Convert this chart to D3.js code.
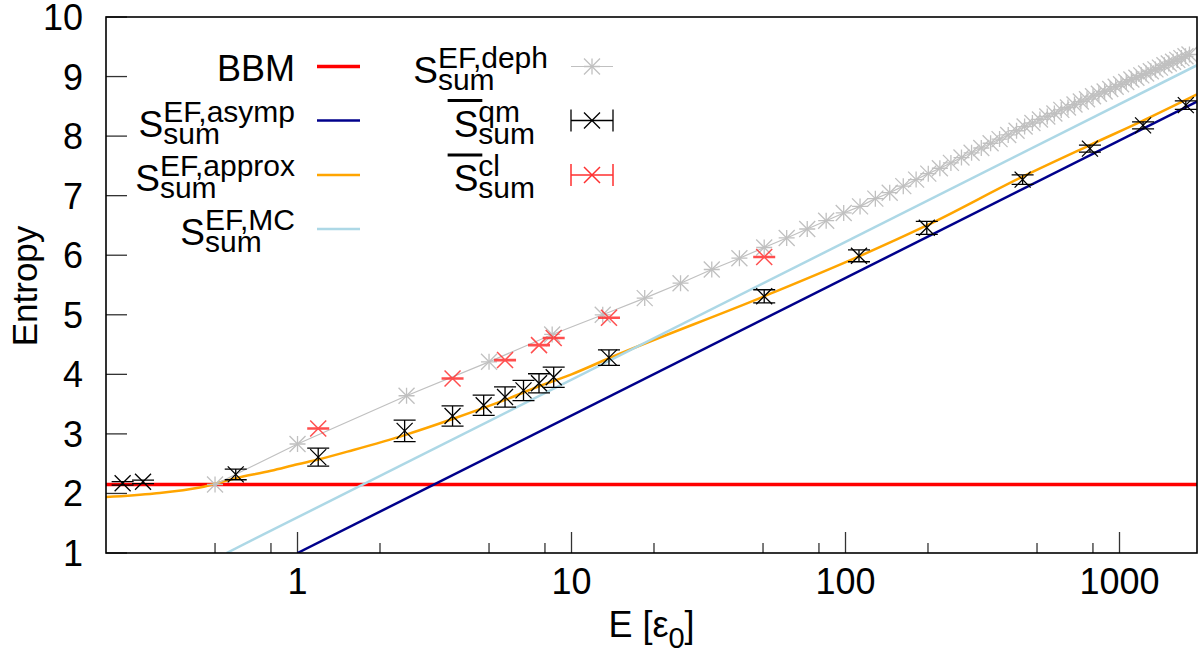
<!DOCTYPE html>
<html lang="en">
<head>
<meta charset="utf-8">
<title>Entropy vs energy</title>
<script src="https://cdn.jsdelivr.net/npm/d3@7"></script>
<style>
  body { margin: 0; background: #fff; }
  text { font-family: "Liberation Sans", Arial, Helvetica, sans-serif; fill: #000; }
</style>
</head>
<body>
<div id="chart"></div>
<script>
  // dephasing curve, one marker per level
  var dephE = [0.5, 1, 2.5, 5, 8.5, 13, 18.5, 25, 32.5, 41, 50.5, 61, 72.5, 85, 98.5, 113, 128.5, 145,
    162.5, 181, 200.5, 221, 242.5, 265, 288.5, 313, 338.5, 365, 392.5, 421, 450.5, 481, 512.5,
    545, 578.5, 613, 648.5, 685, 722.5, 761, 800.5, 841, 882.5, 925, 968.5, 1013, 1058.5, 1105,
    1152.5, 1201, 1250.5, 1301, 1352.5, 1405, 1458.5, 1513, 1568.5, 1625, 1682.5, 1741, 1800.5];
  var dephS = [2.15, 2.83, 3.64, 4.21, 4.67, 5.0, 5.28, 5.53, 5.76, 5.95, 6.13, 6.29, 6.44, 6.58, 6.71, 6.82, 6.95, 7.05,
    7.16, 7.27, 7.37, 7.46, 7.55, 7.64, 7.72, 7.80, 7.88, 7.95, 8.02, 8.09, 8.16, 8.22, 8.28,
    8.33, 8.38, 8.44, 8.48, 8.53, 8.58, 8.62, 8.67, 8.71, 8.75, 8.79, 8.83, 8.87, 8.91, 8.95,
    8.98, 9.02, 9.05, 9.09, 9.12, 9.15, 9.19, 9.22, 9.25, 9.28, 9.31, 9.34, 9.37];

  // quantum mean with error bars
  var qmE = [0.23, 0.273, 0.595, 1.19, 2.46, 3.68, 4.78, 5.72, 6.68, 7.61, 8.61, 13.7, 50.5, 112, 198, 443, 780, 1219, 1746];
  var qmS = [2.17, 2.195, 2.32, 2.61, 3.05, 3.30, 3.48, 3.62, 3.73, 3.85, 3.95, 4.28, 5.31, 5.99, 6.46, 7.27, 7.79, 8.18, 8.52];
  var qmErr = [0.03, 0.03, 0.09, 0.15, 0.18, 0.17, 0.17, 0.17, 0.17, 0.16, 0.17, 0.13, 0.11, 0.10, 0.11, 0.08, 0.06, 0.06, 0.07];

  // classical mean with error bars
  var clE = [1.19, 3.68, 5.72, 7.61, 8.61, 13.7, 50.5];
  var clS = [3.09, 3.93, 4.24, 4.49, 4.61, 4.95, 5.97];
  var clErr = [0.01, 0.01, 0.01, 0.01, 0.01, 0.01, 0.01];

  // curves
  var approxE = [0.2, 0.3, 0.44, 0.6, 0.8, 1.0, 1.19, 1.6, 2.46, 3.68, 5.72, 7.61, 10, 13.7, 50.5, 112, 198, 443, 780, 1219, 1918];
  var approxS = [1.94, 2.0, 2.1, 2.26, 2.38, 2.49, 2.57, 2.73, 2.98, 3.25, 3.57, 3.80, 4.0, 4.27, 5.31, 5.98, 6.50, 7.32, 7.85, 8.26, 8.70];
  var asympE = [1, 1918];
  var asympS = [1, 8.58];
  var mcE = [0.551, 1918];
  var mcS = [1, 9.19];
  var bbmE = [0.2, 1918];
  var bbmS = [2.15, 2.15];

  var xTicks = [1, 10, 100, 1000];
  var xMinor = [0.5, 0.8, 2, 5, 8, 20, 50, 80, 200, 500, 800];
  var yTicks = [1, 2, 3, 4, 5, 6, 7, 8, 9, 10];

  var W = 1204, H = 650;
  var pL = 106, pR = 1197, pT = 17, pB = 553;

  var svg = d3.select("#chart").append("svg")
    .attr("width", W).attr("height", H);

  var x = d3.scaleLog().domain([0.2, 1918]).range([pL, pR]);
  var y = d3.scaleLinear().domain([1, 10]).range([pB, pT]);

  var zip = function (a, b) { return a.map(function (v, i) { return [v, b[i]]; }); };

  svg.append("clipPath").attr("id", "plot")
    .append("rect").attr("x", pL).attr("y", pT).attr("width", pR - pL).attr("height", pB - pT);

  // ticks (inside, left and bottom only)
  var tickG = svg.append("g").attr("stroke", "#333").attr("stroke-width", 1.3);
  yTicks.forEach(function (t) {
    tickG.append("line").attr("x1", pL).attr("x2", pL + 21).attr("y1", y(t)).attr("y2", y(t));
  });
  xTicks.forEach(function (t) {
    tickG.append("line").attr("x1", x(t)).attr("x2", x(t)).attr("y1", pB).attr("y2", pB - 21);
  });
  xMinor.forEach(function (t) {
    tickG.append("line").attr("x1", x(t)).attr("x2", x(t)).attr("y1", pB).attr("y2", pB - 10);
  });

  svg.selectAll(".ylab").data(yTicks).enter().append("text")
    .attr("x", 83).attr("y", function (d) { return y(d); }).attr("dy", "0.36em")
    .attr("text-anchor", "end").attr("font-size", 36).text(function (d) { return d; });
  svg.selectAll(".xlab").data(xTicks).enter().append("text")
    .attr("x", function (d) { return x(d); }).attr("y", 594)
    .attr("text-anchor", "middle").attr("font-size", 36).text(function (d) { return d; });

  var xt = svg.append("text").attr("x", (pL + pR) / 2).attr("y", 637)
    .attr("text-anchor", "middle").attr("font-size", 36);
  xt.append("tspan").text("E [ε");
  xt.append("tspan").attr("font-size", 29).attr("dy", 11).text("0");
  xt.append("tspan").attr("dy", -11).text("]");

  svg.append("text").attr("transform", "translate(37,286) rotate(-90)")
    .attr("text-anchor", "middle").attr("font-size", 35).text("Entropy");

  var plot = svg.append("g").attr("clip-path", "url(#plot)");
  var line = d3.line().x(function (d) { return x(d[0]); }).y(function (d) { return y(d[1]); });

  var red = "#ff0000", navy = "#00008b", orange = "#ffa500", lblue = "#add8e6", gray = "#c0c0c0", clRed = "#ff3030";

  plot.append("path").datum(zip(bbmE, bbmS)).attr("d", line)
    .attr("fill", "none").attr("stroke", red).attr("stroke-width", 3.5);
  plot.append("path").datum(zip(asympE, asympS)).attr("d", line)
    .attr("fill", "none").attr("stroke", navy).attr("stroke-width", 2.5);
  plot.append("path").datum(zip(approxE, approxS)).attr("d", line.curve(d3.curveMonotoneX))
    .attr("fill", "none").attr("stroke", orange).attr("stroke-width", 2.5);
  line.curve(d3.curveLinear);
  plot.append("path").datum(zip(mcE, mcS)).attr("d", line)
    .attr("fill", "none").attr("stroke", lblue).attr("stroke-width", 2.5);

  function cross(g, cx, cy, s) {
    g.append("path").attr("d", "M" + (cx - s) + "," + (cy - s) + "L" + (cx + s) + "," + (cy + s) +
      "M" + (cx - s) + "," + (cy + s) + "L" + (cx + s) + "," + (cy - s));
  }
  function star(g, cx, cy, s) {
    cross(g, cx, cy, s);
    g.append("path").attr("d", "M" + (cx - s) + "," + cy + "H" + (cx + s) + "M" + cx + "," + (cy - s) + "V" + (cy + s));
  }
  function errbar(g, cx, cy0, cy1, w) {
    g.append("path").attr("d", "M" + cx + "," + cy0 + "V" + cy1 +
      "M" + (cx - w) + "," + cy0 + "H" + (cx + w) + "M" + (cx - w) + "," + cy1 + "H" + (cx + w));
  }

  // dephasing
  plot.append("path").datum(zip(dephE, dephS)).attr("d", line)
    .attr("fill", "none").attr("stroke", gray).attr("stroke-width", 1.2);
  var dg = plot.append("g").attr("stroke", gray).attr("stroke-width", 1.3).attr("fill", "none");
  dephE.forEach(function (e, i) { star(dg, x(e), y(dephS[i]), 8); });

  // quantum
  var qg = plot.append("g").attr("stroke", "#000").attr("stroke-width", 1.3).attr("fill", "none");
  qmE.forEach(function (e, i) {
    errbar(qg, x(e), y(qmS[i] - qmErr[i]), y(qmS[i] + qmErr[i]), 11);
    cross(qg, x(e), y(qmS[i]), 8);
  });

  // classical
  var cg = plot.append("g").attr("stroke", clRed).attr("stroke-width", 1.5).attr("fill", "none").attr("opacity", 0.85);
  clE.forEach(function (e, i) {
    errbar(cg, x(e), y(clS[i] - clErr[i]), y(clS[i] + clErr[i]), 11);
    cross(cg, x(e), y(clS[i]), 8);
  });

  // border
  svg.append("rect").attr("x", pL).attr("y", pT).attr("width", pR - pL).attr("height", pB - pT)
    .attr("fill", "none").attr("stroke", "#000").attr("stroke-width", 1.6);

  // legend
  var leg1 = [["BBM"], ["S", "EF,asymp", "sum"], ["S", "EF,approx", "sum"], ["S", "EF,MC", "sum"]];
  var leg2 = [["S", "EF,deph", "sum"], ["S", "qm", "sum", true], ["S", "cl", "sum", true]];
  var rowY = [66.5, 120.5, 175, 229];
  var lg = svg.append("g");

  function label(rx, ry, item) {
    if (item.length === 1) {
      lg.append("text").attr("x", rx).attr("y", ry + 14).attr("text-anchor", "end")
        .attr("font-size", 36).text(item[0]);
      return;
    }
    if (item[3]) rx -= 13;
    var s = lg.append("text").attr("y", ry + 16).attr("font-size", 37).text(item[0]);
    var sp = lg.append("text").attr("y", ry + 1).attr("font-size", 30).text(item[1]);
    var sb = lg.append("text").attr("y", ry + 23).attr("font-size", 30).text(item[2]);
    var ws = s.node().getComputedTextLength();
    var wx = Math.max(sp.node().getComputedTextLength(), sb.node().getComputedTextLength());
    var lx = rx - ws - wx;
    s.attr("x", lx);
    sp.attr("x", lx + ws);
    sb.attr("x", lx + ws);
    if (item[3]) {
      lg.append("line").attr("x1", lx - 6).attr("x2", lx + ws + 4).attr("y1", ry - 20).attr("y2", ry - 20)
        .attr("stroke", "#000").attr("stroke-width", 3);
    }
  }

  leg1.forEach(function (it, i) { label(295, rowY[i], it); });
  leg2.forEach(function (it, i) { label(548, rowY[i], it); });

  var sx0 = 317, sx1 = 360, tx0 = 571, tx1 = 613;
  [[red, 3.5], [navy, 2.5], [orange, 2.5], [lblue, 2.5]].forEach(function (c, i) {
    lg.append("line").attr("x1", sx0).attr("x2", sx1).attr("y1", rowY[i]).attr("y2", rowY[i])
      .attr("stroke", c[0]).attr("stroke-width", c[1]);
  });
  lg.append("line").attr("x1", tx0).attr("x2", tx1).attr("y1", rowY[0]).attr("y2", rowY[0])
    .attr("stroke", gray).attr("stroke-width", 1.2);
  var lsg = lg.append("g").attr("stroke", gray).attr("stroke-width", 1.3).attr("fill", "none");
  star(lsg, (tx0 + tx1) / 2, rowY[0], 8);
  [["#000", 1, 1.3], [clRed, 2, 1.5]].forEach(function (c) {
    var g = lg.append("g").attr("stroke", c[0]).attr("stroke-width", c[2]).attr("fill", "none");
    var yy = rowY[c[1]];
    g.append("path").attr("d", "M" + tx0 + "," + yy + "H" + tx1 + "M" + tx0 + "," + (yy - 11) + "V" + (yy + 11) +
      "M" + tx1 + "," + (yy - 11) + "V" + (yy + 11));
    cross(g, (tx0 + tx1) / 2, yy, 8);
  });
</script>
</body>
</html>
